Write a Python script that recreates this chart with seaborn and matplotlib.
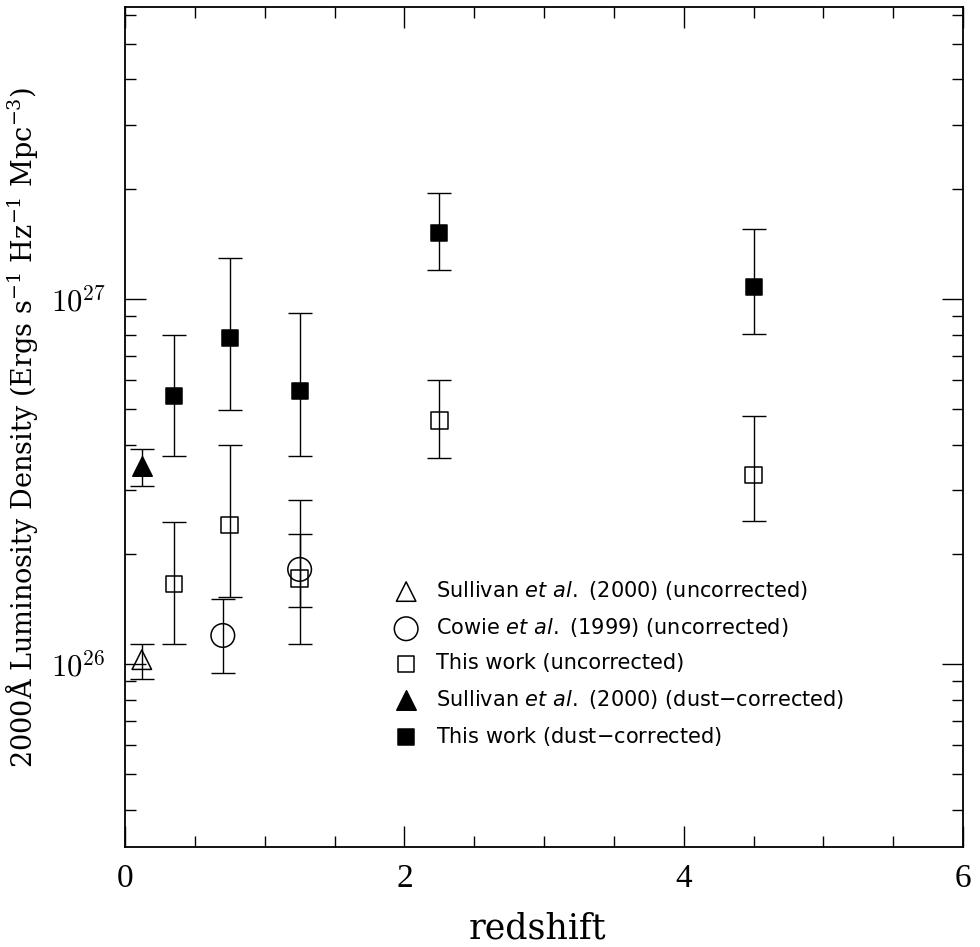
import numpy as np
import pandas as pd
import matplotlib
matplotlib.use("Agg")
import matplotlib.pyplot as plt
import matplotlib.ticker as mticker
import seaborn as sns

# ---------------- data ----------------
z_sul = [0.12]
L_sul_unc = [1.03e26]
L_sul_unc_lo = [9.1e25]
L_sul_unc_hi = [1.14e26]
L_sul_dust = [3.50e26]
L_sul_dust_lo = [3.08e26]
L_sul_dust_hi = [3.89e26]

z_cowie = [0.70, 1.25]
L_cowie = [1.20e26, 1.82e26]
L_cowie_lo = [9.5e25, 1.44e26]
L_cowie_hi = [1.51e26, 2.28e26]

z_this = [0.35, 0.75, 1.25, 2.25, 4.5]
L_this_unc = [1.66e26, 2.41e26, 1.72e26, 4.65e26, 3.30e26]
L_this_unc_lo = [1.14e26, 1.53e26, 1.14e26, 3.67e26, 2.47e26]
L_this_unc_hi = [2.45e26, 3.98e26, 2.82e26, 6.01e26, 4.79e26]
L_this_dust = [5.44e26, 7.82e26, 5.61e26, 1.52e27, 1.08e27]
L_this_dust_lo = [3.73e26, 4.98e26, 3.71e26, 1.20e27, 8.02e26]
L_this_dust_hi = [7.98e26, 1.30e27, 9.17e26, 1.95e27, 1.56e27]

labels = [
    r"Sullivan $\it{et\ al.}$ (2000) (uncorrected)",
    r"Cowie $\it{et\ al.}$ (1999) (uncorrected)",
    r"This work (uncorrected)",
    r"Sullivan $\it{et\ al.}$ (2000) (dust$-$corrected)",
    r"This work (dust$-$corrected)",
]

sns.set_theme(style="white")
plt.rcParams["font.family"] = ["Liberation Serif", "DejaVu Serif"]
plt.rcParams["mathtext.fontset"] = "stix"
for k in ["text.color", "axes.labelcolor", "xtick.color", "ytick.color", "axes.edgecolor"]:
    plt.rcParams[k] = "black"

fig = plt.figure(figsize=(9.8, 9.47), dpi=100)
ax = fig.add_axes([0.1276, 0.1056, 0.8551, 0.8870])

series = [
    (z_sul, L_sul_unc, L_sul_unc_lo, L_sul_unc_hi, "^", "none", 14, labels[0]),
    (z_cowie, L_cowie, L_cowie_lo, L_cowie_hi, "o", "none", 17, labels[1]),
    (z_this, L_this_unc, L_this_unc_lo, L_this_unc_hi, "s", "none", 12, labels[2]),
    (z_sul, L_sul_dust, L_sul_dust_lo, L_sul_dust_hi, "^", "black", 14, labels[3]),
    (z_this, L_this_dust, L_this_dust_lo, L_this_dust_hi, "s", "black", 12, labels[4]),
]

for z, L, lo, hi, mk, fc, ms, lab in series:
    L = np.asarray(L); lo = np.asarray(lo); hi = np.asarray(hi)
    ax.errorbar(z, L, yerr=[L - lo, hi - L], fmt="none", ecolor="black",
                elinewidth=1.0, capsize=8.5, capthick=1.0, zorder=2)
    df = pd.DataFrame({"z": z, "L": L})
    sns.scatterplot(data=df, x="z", y="L", ax=ax, marker=mk, s=ms ** 2,
                    facecolor=fc, edgecolor="black", linewidth=1.1,
                    label=lab, zorder=3)

ax.set_yscale("log")
ax.set_xlim(0, 6)
ax.set_ylim(10 ** 25.5, 10 ** 27.8)

ax.xaxis.set_major_locator(mticker.MultipleLocator(2))
ax.xaxis.set_minor_locator(mticker.MultipleLocator(0.5))
ax.yaxis.set_major_locator(mticker.LogLocator(base=10, numticks=10))
ax.yaxis.set_minor_locator(mticker.LogLocator(base=10, subs=np.arange(2, 10), numticks=20))
ax.yaxis.set_major_formatter(mticker.FuncFormatter(lambda v, p: r"$10^{%d}$" % round(np.log10(v))))
ax.yaxis.set_minor_formatter(mticker.NullFormatter())

ax.tick_params(which="both", direction="in", bottom=True, left=True, top=True, right=True,
               color="black", labelcolor="black", width=1.0)
ax.tick_params(which="major", length=15)
ax.tick_params(which="minor", length=8)
ax.tick_params(axis="x", which="major", labelsize=24, pad=12)
ax.tick_params(axis="y", which="major", labelsize=22, pad=14)
for t in ax.get_yticklabels():
    t.set_math_fontfamily("cm")

for sp in ax.spines.values():
    sp.set_color("black")
    sp.set_linewidth(1.3)

ax.set_xlabel("redshift", fontsize=25, family=["DejaVu Serif"], color="black")
ax.xaxis.set_label_coords(0.4916, -0.077)
ax.set_ylabel(r"2000Å Luminosity Density (Ergs s$^{-1}$ Hz$^{-1}$ Mpc$^{-3}$)",
              fontsize=19.5, family=["DejaVu Serif"], color="black")
ax.yaxis.label.set_math_fontfamily("dejavuserif")
ax.yaxis.set_label_coords(-0.102, 0.5)

leg = ax.legend(loc="upper left", bbox_to_anchor=(0.323, 0.319), frameon=False,
                borderpad=0, borderaxespad=0, handlelength=1.0, handletextpad=0.94,
                labelspacing=0.68, prop={"family": ["DejaVu Sans"], "size": 15})
for t in leg.get_texts():
    t.set_math_fontfamily("dejavusans")
    t.set_color("black")

fig.savefig("out.png", dpi=100)
